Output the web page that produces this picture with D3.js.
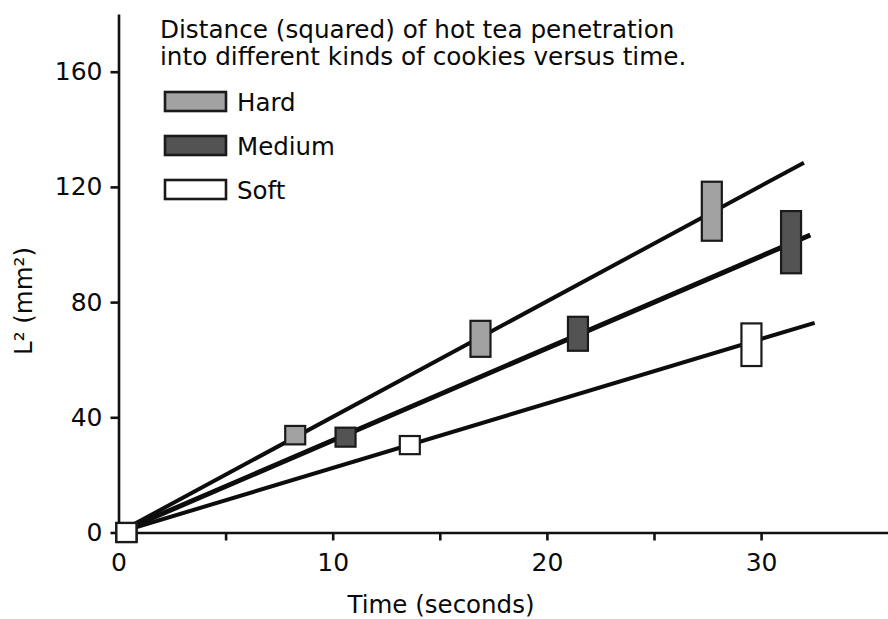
<!DOCTYPE html>
<html lang="en">
<head>
<meta charset="utf-8">
<title>Tea penetration into cookies</title>
<script src="https://cdn.jsdelivr.net/npm/d3@7"></script>
<style>
	body { margin: 0; background: #fff; }
	svg text { font-family: "DejaVu Sans", sans-serif; fill: #0a0a0a; }
</style>
</head>
<body>
<div id="chart"></div>
<script>
	// kinds of cookie, in legend order
	const kinds = ["Hard", "Medium", "Soft"];

	// measured points: time (s), L^2 (mm^2) and the low / high edge of each box
	const hardTime = [0.37, 8.25, 16.9, 27.7];
	const hardL2 = [0, 33.9, 67.3, 111.6];
	const hardLow = [-3.3, 30.6, 61.0, 101.3];
	const hardHigh = [3.3, 37.0, 73.5, 121.8];

	const mediumTime = [0.37, 10.6, 21.45, 31.4];
	const mediumL2 = [0, 33.1, 69.0, 100.8];
	const mediumLow = [-3.3, 29.8, 63.1, 90.0];
	const mediumHigh = [3.3, 36.4, 74.9, 111.6];

	const softTime = [0.37, 13.6, 29.55];
	const softL2 = [0, 30.3, 65.2];
	const softLow = [-3.3, 27.2, 57.8];
	const softHigh = [3.3, 33.5, 72.6];

	// fitted lines: start and end (time, L^2)
	const hardFit = [[0, 0], [32.0, 128.4]];
	const mediumFit = [[0, 0], [32.3, 103.3]];
	const softFit = [[0, 0], [32.5, 72.8]];

	// ticks
	const xTicks = [0, 5, 10, 15, 20, 25, 30];
	const yTicks = [0, 40, 80, 120, 160];

	const titleLines = ["Distance (squared) of hot tea penetration",
		"into different kinds of cookies versus time."];

	const fills = { Hard: "#a2a2a2", Medium: "#535353", Soft: "#ffffff" };
	const lineWidths = { Hard: 4, Medium: 5, Soft: 4 };

	function pack(t, v, lo, hi) {
		return t.map((d, i) => ({ t: d, v: v[i], lo: lo[i], hi: hi[i] }));
	}

	const data = [
		{ kind: "Hard", points: pack(hardTime, hardL2, hardLow, hardHigh), fit: hardFit },
		{ kind: "Medium", points: pack(mediumTime, mediumL2, mediumLow, mediumHigh), fit: mediumFit },
		{ kind: "Soft", points: pack(softTime, softL2, softLow, softHigh), fit: softFit }
	];

	const W = 888, H = 619;
	const svg = d3.select("#chart").append("svg")
		.attr("width", W)
		.attr("height", H);

	const x = d3.scaleLinear().domain([0, 36]).range([118.5, 889.6]);
	const y = d3.scaleLinear().domain([0, 180]).range([532.5, 14.1]);

	// axes
	const xAxis = svg.append("g")
		.attr("transform", "translate(0," + y(0) + ")")
		.call(d3.axisBottom(x)
			.tickValues(xTicks)
			.tickSize(8)
			.tickSizeOuter(0)
			.tickPadding(13)
			.tickFormat(d => d % 10 === 0 ? d : ""));

	const yAxis = svg.append("g")
		.attr("transform", "translate(" + x(0) + ",0)")
		.call(d3.axisLeft(y)
			.tickValues(yTicks)
			.tickSize(8)
			.tickSizeOuter(0)
			.tickPadding(8));

	[xAxis, yAxis].forEach(g => {
		g.selectAll("path, line").attr("stroke", "#111").attr("stroke-width", 2.6);
		g.selectAll("text").attr("font-size", 25).attr("font-family", "DejaVu Sans").attr("fill", "#0a0a0a");
	});

	// fitted lines first, boxes on top
	const line = d3.line().x(d => x(d[0])).y(d => y(d[1]));
	svg.append("g").selectAll("path")
		.data(data)
		.join("path")
		.attr("d", d => line(d.fit))
		.attr("fill", "none")
		.attr("stroke", "#0d0d0d")
		.attr("stroke-width", d => lineWidths[d.kind]);

	const boxW = 20;
	data.forEach(s => {
		svg.append("g").selectAll("rect")
			.data(s.points)
			.join("rect")
			.attr("x", d => x(d.t) - boxW / 2)
			.attr("y", d => y(d.hi))
			.attr("width", boxW)
			.attr("height", d => y(d.lo) - y(d.hi))
			.attr("fill", fills[s.kind])
			.attr("stroke", "#1a1a1a")
			.attr("stroke-width", 2.2);
	});

	// title
	svg.append("g").selectAll("text")
		.data(titleLines)
		.join("text")
		.attr("x", 160)
		.attr("y", (d, i) => 37.5 + i * 27)
		.attr("font-size", 24.7)
		.text(d => d);

	// legend
	const legend = svg.append("g").selectAll("g")
		.data(kinds)
		.join("g")
		.attr("transform", (d, i) => "translate(0," + (i * 44) + ")");

	legend.append("rect")
		.attr("x", 165)
		.attr("y", 92)
		.attr("width", 61)
		.attr("height", 19)
		.attr("fill", d => fills[d])
		.attr("stroke", "#1a1a1a")
		.attr("stroke-width", 2.6);

	legend.append("text")
		.attr("x", 237)
		.attr("y", 111)
		.attr("font-size", 24.5)
		.text(d => d);

	// axis titles
	svg.append("text")
		.attr("x", 441)
		.attr("y", 613)
		.attr("text-anchor", "middle")
		.attr("font-size", 24.5)
		.text("Time (seconds)");

	svg.append("text")
		.attr("transform", "translate(32,301) rotate(-90)")
		.attr("text-anchor", "middle")
		.attr("font-size", 24.5)
		.text("L² (mm²)");
</script>
</body>
</html>
